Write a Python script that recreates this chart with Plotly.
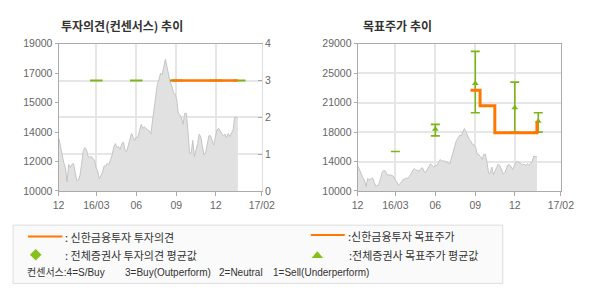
import pandas as pd
import plotly.graph_objects as go

# ---------------- data ----------------
price_start = "2015-12-06"
price_end = "2017-01-21"
price = [13190, 12600, 12210, 11720, 11430, 10550, 11620, 11430, 11620, 11680,
         11140, 10650, 10650, 10940, 11620, 12410, 12660, 12540, 12110, 12070,
         12110, 12020, 11880, 11430, 11230, 10740, 10980, 11140, 11530, 11530,
         11680, 11620, 11920, 12210, 12700, 12900, 12660, 12700, 12540, 12900,
         12990, 12500, 12410, 12740, 13090, 13520, 13290, 13090, 13290, 13290,
         13720, 14070, 13830, 13910, 13830, 13720, 13680, 13480,
         14270, 15050, 15930, 16510, 16810, 17200, 17100, 17490, 18060, 17590,
         17000, 16650, 16420, 16030, 15930, 15600, 14750, 14660, 14460, 14070,
         14750, 14750, 13680, 12310, 12310, 13090, 12110, 12500, 12900, 13480,
         13290, 12700, 12210, 12350, 12800, 13380, 13380, 13090, 12800, 13290,
         13720, 13830, 13640, 13520, 13380, 13480, 13250, 13520, 13330, 13580,
         13720, 14500, 14500, 14420]

# Shinhan opinion (1-4 scale) and target price
opinion_dates = ["2016-08-21", "2017-01-21"]
opinion_vals = [3, 3]
target_dates = ["2016-08-21", "2016-09-12", "2016-10-16", "2017-01-21"]
target_vals = [23000, 21000, 17500, 19000]

# Consensus (all brokers)
cons_dates = ["2016-03-01", "2016-06-01", "2016-09-01", "2016-12-01", "2017-01-24"]
cons_opinion = [3, 3, 3, 3, 3]
cons_tp_avg = [None, 17980, 23880, 20740, 19010]
cons_tp_high = [15100, 18600, 28010, 24050, 20090]
cons_tp_low = [15100, 17110, 20090, 17560, 17600]

x_range = ["2015-12-05", "2017-03-17"]
x_tickvals = ["2015-12-05", "2016-03-01", "2016-06-01", "2016-09-01", "2016-12-01", "2017-03-17"]
x_ticktext = ["12", "16/03", "06", "09", "12", "17/02"]

left_range = [10000, 19000]
left_tickvals = [10000, 11800, 13600, 15400, 17200, 19000]
left_ticktext = ["10000", "12000", "14000", "15000", "17000", "19000"]
op_tickvals = [0, 1, 2, 3, 4]

right_range = [10000, 29000]
right_tickvals = [10000, 13800, 17600, 21400, 25200, 29000]
right_ticktext = ["10000", "14000", "18000", "21000", "25000", "29000"]

# ---------------- styling ----------------
W, H = 590, 300
ORANGE = "#ff7700"
GREEN = "#7cb518"
AREA_FILL = "#e1e1e1"
AREA_LINE = "#c4c4c4"
GRID = "#e6e6e6"
AXIS = "#aaaaaa"
TICKFONT = dict(family="Liberation Sans, Arial, sans-serif", size=10.5, color="#666666")
KFONT = "Noto Sans CJK KR, sans-serif"
LFONT = "Liberation Sans, Noto Sans CJK KR, sans-serif"


def px(x):
    return x / W


def py(y):
    return 1 - y / H


dates = pd.date_range(price_start, price_end, periods=len(price))

fig = go.Figure()

# ---- left chart: price area + opinion ----
fig.add_trace(go.Scatter(x=dates, y=price, mode="lines", fill="tozeroy",
                         line=dict(color=AREA_LINE, width=1), fillcolor=AREA_FILL,
                         xaxis="x", yaxis="y", hoverinfo="skip"))
fig.add_trace(go.Scatter(x=pd.to_datetime(cons_dates), y=cons_opinion, mode="markers",
                         marker=dict(symbol="line-ew", size=9,
                                     line=dict(color=GREEN, width=2)),
                         xaxis="x", yaxis="y2"))
fig.add_trace(go.Scatter(x=pd.to_datetime(opinion_dates), y=opinion_vals, mode="lines",
                         line=dict(color=ORANGE, width=2.5), xaxis="x", yaxis="y2"))

# ---- right chart: price area + target price ----
fig.add_trace(go.Scatter(x=dates, y=price, mode="lines", fill="tozeroy",
                         line=dict(color=AREA_LINE, width=1), fillcolor=AREA_FILL,
                         xaxis="x2", yaxis="y3", hoverinfo="skip"))
fig.add_trace(go.Scatter(x=pd.to_datetime(cons_dates), y=cons_tp_low, mode="markers",
                         marker=dict(size=1, color="rgba(0,0,0,0)"),
                         error_y=dict(type="data", symmetric=False,
                                      array=[h - l for h, l in zip(cons_tp_high, cons_tp_low)],
                                      arrayminus=[0] * len(cons_tp_low),
                                      color=GREEN, thickness=1.6, width=4.5),
                         xaxis="x2", yaxis="y3"))
fig.add_trace(go.Scatter(x=pd.to_datetime(cons_dates), y=cons_tp_avg, mode="markers",
                         marker=dict(symbol="triangle-up", size=6, color=GREEN),
                         xaxis="x2", yaxis="y3"))
fig.add_trace(go.Scatter(x=pd.to_datetime(target_dates), y=target_vals, mode="lines",
                         line=dict(color=ORANGE, width=3, shape="hv"),
                         xaxis="x2", yaxis="y3"))

dom_y = [py(192.7), py(39.3)]
xcommon = dict(type="date", range=x_range, tickmode="array", tickvals=x_tickvals,
               ticktext=x_ticktext, showgrid=True, gridcolor=GRID, gridwidth=1.5,
               showline=True, linecolor=AXIS, linewidth=1, mirror=True,
               ticks="outside", ticklen=4, tickcolor=AXIS, tickfont=TICKFONT,
               zeroline=False, fixedrange=True)

fig.update_layout(
    width=W, height=H, margin=dict(l=0, r=0, t=0, b=0),
    paper_bgcolor="white", plot_bgcolor="white", showlegend=False,
    xaxis=dict(domain=[px(54.3), px(264.3)], anchor="y", **xcommon),
    xaxis2=dict(domain=[px(363.3), px(573.3)], anchor="y3", **xcommon),
    yaxis=dict(domain=dom_y, range=left_range, tickmode="array", tickvals=left_tickvals,
               ticktext=left_ticktext, showgrid=False, zeroline=False,
               showline=True, linecolor=AXIS, ticks="outside", ticklen=3,
               tickcolor=AXIS, tickfont=TICKFONT, anchor="x"),
    yaxis2=dict(domain=dom_y, range=[0, 4], tickmode="array", tickvals=op_tickvals,
                overlaying="y", side="right", anchor="x", showgrid=True,
                gridcolor=GRID, gridwidth=1.5, zeroline=False, showline=True,
                linecolor="#dddddd", ticks="inside", ticklen=4, tickcolor=AXIS,
                tickfont=TICKFONT),
    yaxis3=dict(domain=dom_y, range=right_range, tickmode="array", tickvals=right_tickvals,
                ticktext=right_ticktext, showgrid=True, gridcolor=GRID, gridwidth=1.5,
                zeroline=False, showline=True, linecolor=AXIS, mirror=True,
                ticks="outside", ticklen=3, tickcolor=AXIS, tickfont=TICKFONT,
                anchor="x2"),
)

annos = []
# titles
annos.append(dict(text="<b>투자의견(컨센서스) 추이</b>", x=px(55), y=py(20.7), xref="paper",
                  yref="paper", xanchor="left", yanchor="middle", showarrow=False,
                  font=dict(family=KFONT, size=12, color="#333333")))
annos.append(dict(text="<b>목표주가 추이</b>", x=px(366.7), y=py(20.7), xref="paper",
                  yref="paper", xanchor="left", yanchor="middle", showarrow=False,
                  font=dict(family=KFONT, size=12, color="#333333")))

legend_texts = [
    (": 신한금융투자 투자의견", 59, 240.7),
    (": 전체증권사 투자의견 평균값", 59, 259.3),
    (":신한금융투자 목표주가", 351.7, 240.0),
    (":전체증권사 목표주가 평균값", 352, 259.3),
]
for t, x, y in legend_texts:
    annos.append(dict(text=t, x=px(x), y=py(y), xref="paper", yref="paper",
                      xanchor="left", yanchor="middle", showarrow=False,
                      font=dict(family=KFONT, size=11, color="#333333")))

scale_texts = [
    ("컨센서스:4=S/Buy", 19.5, 277.3),
    ("3=Buy(Outperform)", 120.5, 277.3),
    ("2=Neutral", 218.3, 277.3),
    ("1=Sell(Underperform)", 274.3, 277.3),
]
for t, x, y in scale_texts:
    annos.append(dict(text=t, x=px(x), y=py(y), xref="paper", yref="paper",
                      xanchor="left", yanchor="middle", showarrow=False,
                      font=dict(family=LFONT, size=10, color="#333333")))
fig.update_layout(annotations=annos)

shapes = [
    dict(type="rect", xref="paper", yref="paper", x0=px(7.3), x1=px(513.3),
         y0=py(289), y1=py(228.3), fillcolor="#fafafa",
         line=dict(color="#dddddd", width=1), layer="below"),
    dict(type="line", xref="paper", yref="paper", x0=px(22.7), x1=px(58.3),
         y0=py(240), y1=py(240), line=dict(color=ORANGE, width=2)),
    dict(type="line", xref="paper", yref="paper", x0=px(315), x1=px(350),
         y0=py(238.5), y1=py(238.5), line=dict(color=ORANGE, width=2)),
    dict(type="path", xref="paper", yref="paper",
         path=f"M {px(30.7)},{py(253)} L {px(36.7)},{py(259)} L {px(30.7)},{py(265)} L {px(24.7)},{py(259)} Z",
         fillcolor="#84c21a", line=dict(width=0)),
    dict(type="path", xref="paper", yref="paper",
         path=f"M {px(321.7)},{py(255.5)} L {px(327.7)},{py(262.5)} L {px(315.7)},{py(262.5)} Z",
         fillcolor="#84c21a", line=dict(width=0)),
]
fig.update_layout(shapes=shapes)

fig.write_html("out.html")
